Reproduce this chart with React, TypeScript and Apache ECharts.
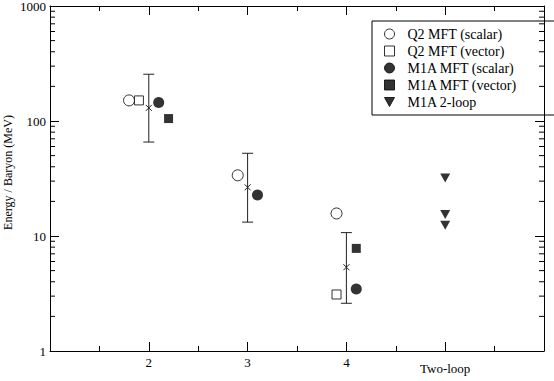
import React, { useEffect, useRef } from "react";
import * as echarts from "echarts";

const FONT = "serif";

const q2Scalar: number[][] = [[1.8, 151], [2.9, 33.7], [3.9, 15.7]];
const q2Vector: number[][] = [[1.9, 151], [3.9, 3.1]];
const m1aScalar: number[][] = [[2.1, 145], [3.1, 22.7], [4.1, 3.46]];
const m1aVector: number[][] = [[2.2, 105], [4.1, 7.8]];
const m1aTwoLoop: number[][] = [[5, 32], [5, 15.4], [5, 12.4]];
// [x, central, low, high]
const estimates: number[][] = [[2, 130, 65.6, 255], [3, 26.5, 13.2, 52.4], [4, 5.35, 2.6, 10.7]];
const minorYTicks: number[] = [2, 3, 4, 5, 6, 7, 8, 9, 20, 30, 40, 50, 60, 70, 80, 90, 200, 300, 400, 500, 600, 700, 800, 900];
const xTickLabels: Record<number, string> = { 2: "2", 3: "3", 4: "4", 5: "{t|Two-loop}" };
const DOWN_TRI = "path://M0,0L10,0L5,9Z";

export default function App() {
  const ref = useRef<HTMLDivElement>(null);
  useEffect(() => {
    if (!ref.current) return;
    const chart = echarts.init(ref.current, null, { renderer: "svg" });
    const open = { color: "#fff", borderColor: "#000", borderWidth: 1 };
    const filled = { color: "#000", borderColor: "#000", borderWidth: 0 };
    const axisCommon = {
      type: "value" as const,
      min: 1,
      max: 6,
      interval: 1,
      axisLine: { show: true, onZero: false, lineStyle: { color: "#000", width: 1 } },
      axisTick: { show: true, inside: true, length: 9, lineStyle: { color: "#000" } },
      minorTick: { show: true, splitNumber: 2, length: 5, lineStyle: { color: "#000" } },
      splitLine: { show: false },
    };
    chart.setOption({
      animation: false,
      textStyle: { fontFamily: FONT },
      grid: { left: 50, right: 10, top: 6, bottom: 30, containLabel: false, outerBoundsMode: "none" },
      legend: {
        orient: "vertical",
        left: 372,
        top: 21,
        width: 164,
        data: [
          "Q2 MFT (scalar)",
          "Q2 MFT (vector)",
          "M1A MFT (scalar)",
          "M1A MFT (vector)",
          { name: "M1A 2-loop", icon: DOWN_TRI },
        ],
        borderColor: "#000",
        borderWidth: 1,
        borderRadius: 0,
        padding: [6, 40, 6, 12],
        itemWidth: 10,
        itemHeight: 10,
        itemGap: 3,
        itemStyle: { borderWidth: 1 },
        textStyle: { fontFamily: FONT, fontSize: 14, color: "#000", lineHeight: 14, padding: [0, 0, 0, 8] },
      },
      xAxis: [
        {
          ...axisCommon,
          position: "bottom",
          axisLabel: {
            show: true,
            margin: 5,
            color: "#000",
            fontSize: 13,
            fontFamily: FONT,
            lineHeight: 13,
            formatter: (v: number) => xTickLabels[v] ?? "",
            rich: { t: { fontSize: 13, fontFamily: FONT, color: "#000", lineHeight: 13, padding: [12, 0, 0, 0] } },
          },
        },
        { ...axisCommon, position: "top", axisLabel: { show: false } },
      ],
      yAxis: [
        {
          type: "log",
          logBase: 10,
          min: 1,
          max: 1000,
          position: "left",
          name: "Energy / Baryon (MeV)",
          nameLocation: "middle",
          nameGap: 36,
          nameMoveOverlap: false,
          nameTextStyle: { fontFamily: FONT, fontSize: 12, color: "#000", padding: [0, 0, 0, 12] },
          axisLine: { show: true, lineStyle: { color: "#000", width: 1 } },
          axisTick: { show: true, inside: true, length: 9, lineStyle: { color: "#000" } },
          axisLabel: { color: "#000", fontSize: 13, fontFamily: FONT, margin: 4, formatter: (v: number) => String(v) },
          splitLine: { show: false },
        },
        {
          type: "log",
          logBase: 10,
          min: 1,
          max: 1000,
          position: "right",
          axisLine: { show: true, lineStyle: { color: "#000", width: 1 } },
          axisTick: { show: true, inside: true, length: 9, lineStyle: { color: "#000" } },
          axisLabel: { show: false },
          splitLine: { show: false },
        },
      ],
      series: [
        {
          type: "custom",
          name: "minorTicks",
          silent: true,
          data: minorYTicks.map((v) => [1, v]),
          renderItem: (params: any, api: any) => {
            const p = api.coord([1, api.value(1)]);
            const cs = params.coordSys;
            return {
              type: "group",
              children: [
                { type: "line", shape: { x1: cs.x, y1: p[1], x2: cs.x + 5, y2: p[1] }, style: { stroke: "#000", lineWidth: 1 } },
                { type: "line", shape: { x1: cs.x + cs.width, y1: p[1], x2: cs.x + cs.width - 5, y2: p[1] }, style: { stroke: "#000", lineWidth: 1 } },
              ],
            };
          },
        },
        {
          type: "custom",
          name: "estimate",
          silent: true,
          data: estimates,
          renderItem: (_params: any, api: any) => {
            const c = api.coord([api.value(0), api.value(1)]);
            const lo = api.coord([api.value(0), api.value(2)]);
            const hi = api.coord([api.value(0), api.value(3)]);
            const s = { stroke: "#222", lineWidth: 1 };
            const w = 5.5;
            const m = 3;
            return {
              type: "group",
              children: [
                { type: "line", shape: { x1: c[0], y1: lo[1], x2: c[0], y2: hi[1] }, style: s },
                { type: "line", shape: { x1: c[0] - w, y1: lo[1], x2: c[0] + w, y2: lo[1] }, style: s },
                { type: "line", shape: { x1: c[0] - w, y1: hi[1], x2: c[0] + w, y2: hi[1] }, style: s },
                { type: "line", shape: { x1: c[0] - m, y1: c[1] - m, x2: c[0] + m, y2: c[1] + m }, style: s },
                { type: "line", shape: { x1: c[0] - m, y1: c[1] + m, x2: c[0] + m, y2: c[1] - m }, style: s },
              ],
            };
          },
        },
        { type: "scatter", name: "Q2 MFT (scalar)", data: q2Scalar, symbol: "circle", symbolSize: 11, itemStyle: open },
        { type: "scatter", name: "Q2 MFT (vector)", data: q2Vector, symbol: "rect", symbolSize: 9, itemStyle: open },
        { type: "scatter", name: "M1A MFT (scalar)", data: m1aScalar, symbol: "circle", symbolSize: 11, itemStyle: filled },
        { type: "scatter", name: "M1A MFT (vector)", data: m1aVector, symbol: "rect", symbolSize: 9, itemStyle: filled },
        { type: "scatter", name: "M1A 2-loop", data: m1aTwoLoop, symbol: DOWN_TRI, symbolSize: [10, 9], itemStyle: filled },
      ],
    });
    return () => chart.dispose();
  }, []);
  return <div ref={ref} style={{ position: "absolute", left: 0, top: 0, width: 554, height: 381 }} />;
}
